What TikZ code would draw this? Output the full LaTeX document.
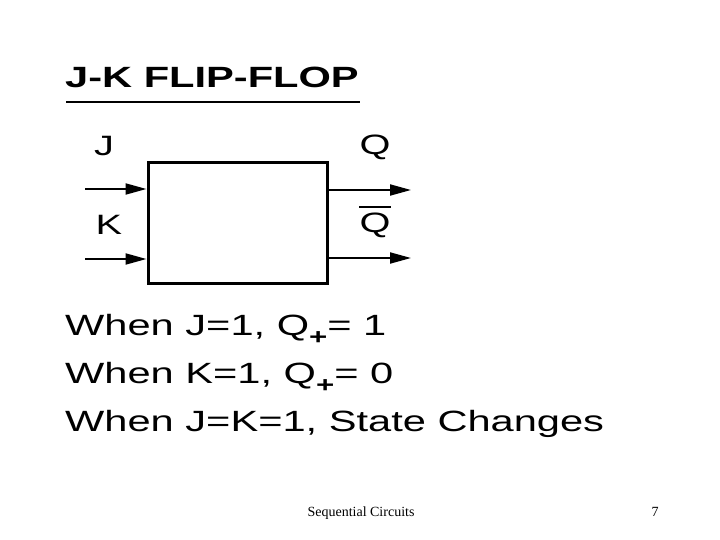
\documentclass[tikz,border=0pt]{standalone}
\usepackage{fontspec}
\setmainfont{Liberation Serif}
\newfontfamily\slidefont[FakeStretch=1.42]{Liberation Sans}
\usetikzlibrary{arrows.meta,positioning}

\tikzset{
  sig/.style={line width=2pt,-{Triangle[length=21pt,width=11pt]}},
  lbl/.style={font=\slidefont\fontsize{28}{32}\selectfont,anchor=base,inner sep=0pt},
  rule/.style={font=\slidefont\fontsize{29.3}{34}\selectfont,anchor=base west,inner sep=0pt}
}
\newcommand\qplus{Q\raisebox{-0.32em}{\fontsize{22}{24}\selectfont\bfseries +}}

\begin{document}
\begin{tikzpicture}[x=1pt,y=-1pt]

\useasboundingbox (0,0) rectangle (720,540);

% Title
\node[rule,font=\slidefont\bfseries\fontsize{29.3}{34}\selectfont] (title) at (65,88) {J-K FLIP-FLOP};
\draw[line width=2pt] (66,102) -- (360,102);

% Flip-flop box
\node[draw,line width=3pt,minimum width=179pt,minimum height=120pt,inner sep=0pt] (ff) at (237.5,223) {};

% Free ends of the connectors
\coordinate (jin) at (85,189);
\coordinate (kin) at (85,259);
\coordinate (qout) at (411,190);
\coordinate (qbout) at (411,258);

% Inputs
\draw[sig] (jin) -- (jin -| ff.west);
\draw[sig] (kin) -- (kin -| ff.west);

% Outputs
\draw[sig] (qout -| ff.east) -- (qout);
\draw[sig] (qbout -| ff.east) -- (qbout);

% Pin labels
\node[lbl] (jlbl) at (104,156) {J};
\node[lbl] (klbl) at (109,235) {K};
\node[lbl] (qlbl) at (375,155) {Q};
\node[lbl] (qblbl) at (375,233) {Q};
\draw[line width=2pt] (359,207) -- (391,207);

% Rules
\node[rule] (r1) at (65,335) {When J=1, \qplus= 1};
\node[rule] (r2) at (65,383) {When K=1, \qplus= 0};
\node[rule] (r3) at (65,431) {When J=K=1, State Changes};

% Footer
\node[font=\fontsize{14}{16}\selectfont,anchor=base] (foot) at (361,516) {Sequential Circuits};
\node[font=\fontsize{14}{16}\selectfont,anchor=base] (page) at (655,516) {7};

\end{tikzpicture}
\end{document}
